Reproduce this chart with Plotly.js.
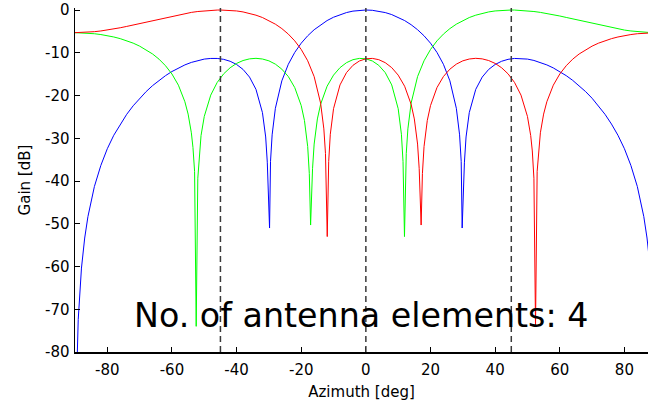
<!DOCTYPE html>
<html>
<head>
<meta charset="utf-8">
<script src="https://cdn.plot.ly/plotly-3.0.1.min.js"></script>
<style>
  html, body { margin: 0; padding: 0; background: #fff; overflow: hidden; }
  #chart { width: 648px; height: 402px; }
</style>
</head>
<body>
<div id="chart"></div>
<script>
// Beam steered to 0 deg (blue)
const azBlue = [-90,-89,-88,-87,-86,-84,-82,-80,-78,-76,-74,-72,-70,-68,-66,-64,-62,-60,-58,-56,-54,-52,-50,-48,-46,-44,-42,-40,-38,-36,-34,-32,-31,-30.5,-29.8,-29.5,-29,-28,-26,-24,-22,-20,-18,-16,-14,-12,-10,-8,-6,-4,-2,0,2,4,6,8,10,12,14,16,18,20,22,24,26,28,29,29.5,29.8,30.5,31,32,34,36,38,40,42,44,46,48,50,52,54,56,58,60,62,64,66,68,70,72,74,76,78,80,82,84,86,87,88,89,90];
const gainBlue = [-100,-72.4,-60.37,-53.34,-48.33,-41.30,-36.35,-32.44,-29.30,-26.68,-24.40,-22.41,-20.64,-19.09,-17.69,-16.46,-15.36,-14.39,-13.55,-12.84,-12.26,-11.80,-11.48,-11.33,-11.33,-11.54,-11.99,-12.74,-13.90,-15.69,-18.56,-24.0,-29.7,-35.6,-51.0,-35.4,-29.2,-23.0,-16.57,-12.70,-9.92,-7.76,-6.03,-4.61,-3.44,-2.47,-1.69,-1.07,-0.60,-0.26,-0.07,0,-0.07,-0.26,-0.60,-1.07,-1.69,-2.47,-3.44,-4.61,-6.03,-7.76,-9.92,-12.70,-16.57,-23.0,-29.2,-35.4,-51.0,-35.6,-29.7,-24.0,-18.56,-15.69,-13.90,-12.74,-11.99,-11.54,-11.33,-11.33,-11.48,-11.80,-12.26,-12.84,-13.55,-14.39,-15.36,-16.46,-17.69,-19.09,-20.64,-22.41,-24.40,-26.68,-29.30,-32.44,-36.35,-41.30,-48.33,-53.34,-60.37,-72.4,-100];

// Beam steered to -45 deg (red)
const azRed = [-90,-88,-86,-84,-82,-80,-78,-76,-74,-72,-70,-68,-66,-64,-62,-60,-58,-56,-54,-52,-50,-48,-46,-45,-44,-42,-40,-38,-36,-34,-32,-30,-28,-26,-24,-22,-20,-18,-16,-14,-13,-12.5,-11.95,-11.5,-11,-10,-8,-6,-4,-2,0,2,4,6,8,10,12,14,15,16,16.5,17.1,17.5,18,19,20,22,24,26,28,30,32,34,36,38,40,42,44,46,48,50,51,51.5,52,52.5,53,53.5,54,55,56,58,60,62,64,66,68,70,72,74,76,78,80,82,84,86,88,90];
const gainRed = [-5.30,-5.28,-5.20,-5.07,-4.90,-4.69,-4.44,-4.15,-3.84,-3.50,-3.16,-2.80,-2.44,-2.08,-1.74,-1.40,-1.10,-0.81,-0.56,-0.35,-0.19,-0.07,-0.01,0,-0.01,-0.08,-0.22,-0.45,-0.78,-1.21,-1.76,-2.45,-3.31,-4.35,-5.63,-7.22,-9.23,-11.87,-15.57,-21.80,-27.81,-33.55,-53.0,-35.42,-29.06,-23.08,-17.52,-14.65,-12.94,-11.92,-11.41,-11.32,-11.62,-12.32,-13.48,-15.23,-17.83,-22.05,-25.48,-31.36,-37.12,-50.3,-38.26,-31.94,-25.85,-22.36,-18.15,-15.56,-13.84,-12.66,-11.89,-11.46,-11.30,-11.43,-11.82,-12.49,-13.51,-14.93,-16.94,-19.91,-24.89,-29.36,-32.97,-39.35,-74.0,-37.75,-32.14,-28.72,-24.35,-21.46,-17.59,-14.97,-13.03,-11.50,-10.28,-9.28,-8.45,-7.75,-7.18,-6.70,-6.31,-5.99,-5.74,-5.55,-5.41,-5.33,-5.30];

// Beam steered to +45 deg (green)
const azGreen = [-90,-88,-86,-84,-82,-80,-78,-76,-74,-72,-70,-68,-66,-64,-62,-60,-58,-56,-55,-54,-53.5,-53,-52.5,-52,-51.5,-51,-50,-48,-46,-44,-42,-40,-38,-36,-34,-32,-30,-28,-26,-24,-22,-20,-19,-18,-17.5,-17.1,-16.5,-16,-15,-14,-12,-10,-8,-6,-4,-2,0,2,4,6,8,10,11,11.5,11.95,12.5,13,14,16,18,20,22,24,26,28,30,32,34,36,38,40,42,44,45,46,48,50,52,54,56,58,60,62,64,66,68,70,72,74,76,78,80,82,84,86,88,90];
const gainGreen = [-5.30,-5.33,-5.41,-5.55,-5.74,-5.99,-6.31,-6.70,-7.18,-7.75,-8.45,-9.28,-10.28,-11.50,-13.03,-14.97,-17.59,-21.46,-24.35,-28.72,-32.14,-37.75,-74.0,-39.35,-32.97,-29.36,-24.89,-19.91,-16.94,-14.93,-13.51,-12.49,-11.82,-11.43,-11.30,-11.46,-11.89,-12.66,-13.84,-15.56,-18.15,-22.36,-25.85,-31.94,-38.26,-50.3,-37.12,-31.36,-25.48,-22.05,-17.83,-15.23,-13.48,-12.32,-11.62,-11.32,-11.41,-11.92,-12.94,-14.65,-17.52,-23.08,-29.06,-35.42,-53.0,-33.55,-27.81,-21.80,-15.57,-11.87,-9.23,-7.22,-5.63,-4.35,-3.31,-2.45,-1.76,-1.21,-0.78,-0.45,-0.22,-0.08,-0.01,0,-0.01,-0.07,-0.19,-0.35,-0.56,-0.81,-1.10,-1.40,-1.74,-2.08,-2.44,-2.80,-3.16,-3.50,-3.84,-4.15,-4.44,-4.69,-4.90,-5.07,-5.20,-5.28,-5.30];

const beamDirections = [-45, 0, 45];
const xTickVals = [-80, -60, -40, -20, 0, 20, 40, 60, 80];
const xTickLabels = ['-80', '-60', '-40', '-20', '0', '20', '40', '60', '80'];
const yTickVals = [-80, -70, -60, -50, -40, -30, -20, -10, 0];
const yTickLabels = ['-80', '-70', '-60', '-50', '-40', '-30', '-20', '-10', '0'];
const annotationText = 'No. of antenna elements: 4';

const FONT = 'DejaVu Sans, Verdana, sans-serif';

const traces = [
  {x: azBlue, y: gainBlue, type: 'scatter', mode: 'lines', line: {color: '#0000ff', width: 1}, hoverinfo: 'skip'},
  {x: azGreen, y: gainGreen, type: 'scatter', mode: 'lines', line: {color: '#00ff00', width: 1}, hoverinfo: 'skip'},
  {x: azRed, y: gainRed, type: 'scatter', mode: 'lines', line: {color: '#ff0000', width: 1}, hoverinfo: 'skip'}
];

const shapes = beamDirections.map(d => ({
  type: 'line', xref: 'x', yref: 'paper', x0: d, x1: d, y0: 0, y1: 1,
  line: {color: '#3a3a3a', width: 1.5, dash: '6px,4px'}, layer: 'above'
}));

const layout = {
  width: 648, height: 402,
  margin: {l: 75, r: 0, t: 8, b: 50, pad: 0},
  paper_bgcolor: '#ffffff', plot_bgcolor: '#ffffff',
  showlegend: false,
  font: {family: FONT, size: 15, color: '#000000'},
  xaxis: {
    range: [-90, 87.3], tickmode: 'array', tickvals: xTickVals, ticktext: xTickLabels,
    ticks: 'inside', ticklen: 5, tickwidth: 1, tickcolor: '#000', ticklabelstandoff: 3,
    showline: true, linecolor: '#000', linewidth: 1.5, showgrid: false, zeroline: false,
    tickfont: {family: FONT, size: 15, color: '#000'},
    title: {text: 'Azimuth [deg]', font: {family: FONT, size: 15, color: '#000'}, standoff: 9}
  },
  yaxis: {
    range: [-80, 0.47], tickmode: 'array', tickvals: yTickVals, ticktext: yTickLabels,
    ticks: 'inside', ticklen: 5, tickwidth: 1, tickcolor: '#000', ticklabelstandoff: 1,
    showline: true, linecolor: '#000', linewidth: 1.5, showgrid: false, zeroline: false,
    tickfont: {family: FONT, size: 15, color: '#000'},
    title: {text: 'Gain [dB]', font: {family: FONT, size: 15, color: '#000'}, standoff: 11}
  },
  shapes: shapes,
  annotations: [{
    text: annotationText, xref: 'x', yref: 'y', x: -1.4, y: -71.4,
    xanchor: 'center', yanchor: 'middle', showarrow: false,
    font: {family: FONT, size: 33.3, color: '#000'}
  }]
};

Plotly.newPlot('chart', traces, layout, {staticPlot: true, displayModeBar: false});
</script>
</body>
</html>
